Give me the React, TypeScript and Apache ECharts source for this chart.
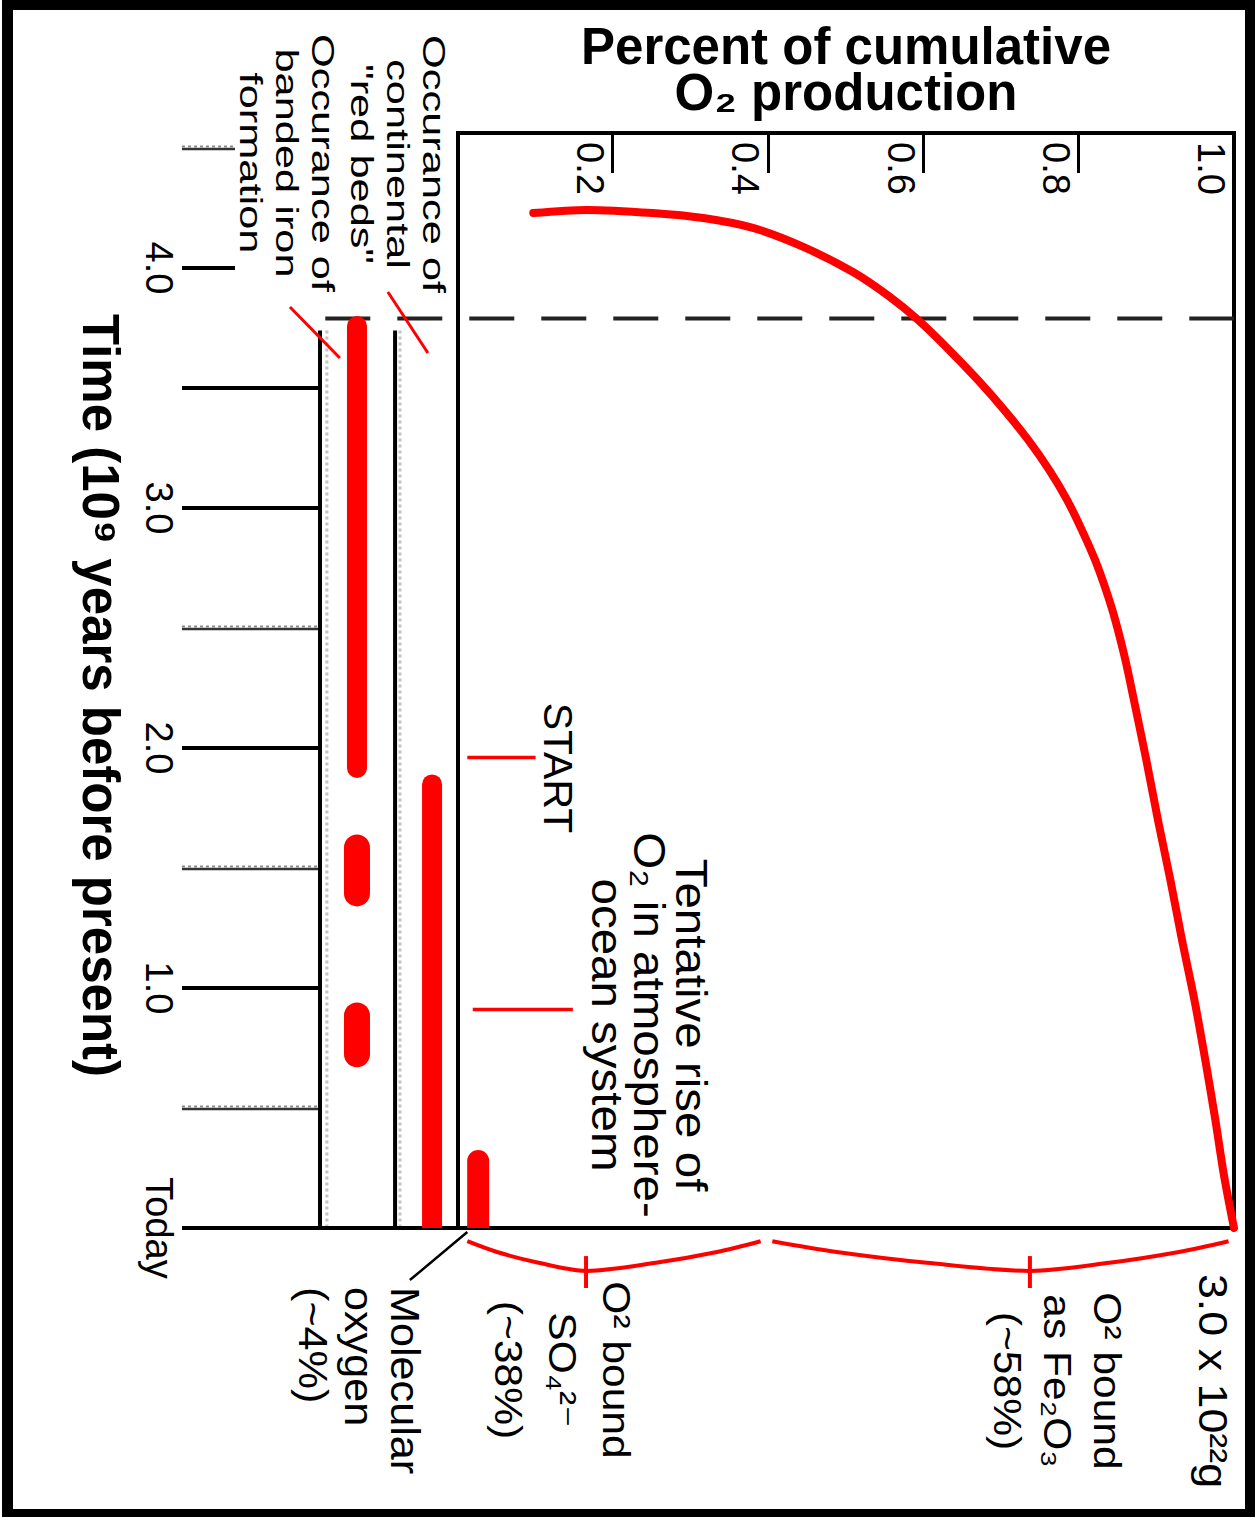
import React, { useEffect, useRef } from "react";
import * as echarts from "echarts";

// ---------------- data ----------------
// cumulative O2 production curve: time (10^9 yr before present) vs fraction
const curveTime = [4.229, 4.242, 4.229, 4.208, 4.167, 4.088, 3.983, 3.883, 3.783, 3.658, 3.533, 3.408, 3.283, 3.158, 3.033, 2.908, 2.783, 2.658, 2.533, 2.367, 2.2, 1.95, 1.7, 1.45, 1.2, 0.95, 0.7, 0.45, 0.221, 0];
const curvePercent = [0.097, 0.166, 0.251, 0.316, 0.38, 0.445, 0.509, 0.555, 0.593, 0.633, 0.67, 0.704, 0.735, 0.762, 0.785, 0.804, 0.821, 0.835, 0.847, 0.86, 0.871, 0.887, 0.902, 0.918, 0.933, 0.949, 0.963, 0.976, 0.987, 1.0];

// occurrence ranges [from, to] in 10^9 yr before present
const bandedIronFormation = [[3.8, 1.875], [1.64, 1.34], [0.94, 0.67]];
const continentalRedBeds = [[1.89, 0]];
const molecularOxygen = [[0.325, 0]];

// axis ticks and labels
const timeTickValues = [0, 1, 2, 3, 4];
const timeTickLabels = ["Today", "1.0", "2.0", "3.0", "4.0"];
const percentTickValues = [0.2, 0.4, 0.6, 0.8, 1.0];
const percentTickLabels = ["0.2", "0.4", "0.6", "0.8", "1.0"];
const solidTimeTicks = [1, 2, 3, 3.5];
const dottedTimeTicks = [0.5, 1.5, 2.5];
const shortSolidTimeTicks = [4];
const shortDottedTimeTicks = [4.5];

// event times
const oxygenThreshold = 3.79; // dashed line
const recordStart = 3.74; // start of the geological record strip
const startMarker = 1.96; // START
const riseMarker = 0.91; // tentative rise of O2

// fraction ranges of the braces: [from, tip, to]
const braceRanges = [[0.012, 0.165, 0.39], [0.405, 0.737, 0.993]];

// ---------------- layout / style constants ----------------
const FONT = "'Liberation Sans', Arial, Helvetica, 'DejaVu Sans', sans-serif";
const RED = "#ff0000";
const TIME_MAX = 4.5625;
const LANE_RED_BEDS = 0.094;
const LANE_IRON = 0.366;
const LINE_A = 0.228;
const LINE_B = 0.5;
const GREY_A = 0.21;
const GREY_B = 0.475;
const SHORT_TOP = 0.808;
const LANE_OXYGEN = 0.026;
const DASH_LOW = -0.171;
const BRACE_DEPTH = [-0.055, -0.1, -0.145, -0.179];
const BRACE_FRAC = [0, 0.25, 0.6, 1];
const TIP_TICK = [-0.117, -0.25];
const OXYGEN_POINTER = [[-0.017, 0.012], [-0.217, -0.062]];

const annotations = [
  { text: 'Occurance of\ncontinental\n"red beds"', at: [4.433, -0.0773], size: 31, lh: 36, sx: 1.4, align: "center" },
  { text: "Occurance of\nbanded iron\nformation", at: [4.4375, -0.2204], size: 31, lh: 36, sx: 1.4, align: "center" },
  { text: "START", at: [1.9167, 0.1289], size: 41, lh: 44, sx: 1.0, align: "center" },
  { text: "Tentative rise of\nO\u2082 in atmosphere-\nocean system", at: [0.8458, 0.2461], size: 44, lh: 42, sx: 1.08, align: "center" },
  { text: "Molecular\noxygen\n(~4%)", at: [-0.2458, -0.1276], size: 40, lh: 46, sx: 1.08, align: "left" },
  { text: "O\u00b2 bound\nSO\u2084\u00b2\u207b\n(~38%)", at: [-0.5917, 0.134], size: 38, lh: 54, sx: 1.12, align: "center" },
  { text: "O\u00b2 bound\nas Fe\u2082O\u2083\n(~58%)", at: [-0.6375, 0.772], size: 38, lh: 50, sx: 1.12, align: "center" },
  { text: "3.0 x 10\u00b2\u00b2g", at: [-0.6375, 0.973], size: 40, lh: 44, sx: 1.12, align: "center" },
];

function labelFor(values: number[], labels: string[]) {
  return (v: number) => {
    const i = values.findIndex((x) => Math.abs(x - v) < 1e-6);
    return i >= 0 ? labels[i] : "";
  };
}

function bracePoints(r: number[]) {
  const [p0, tip, p1] = r;
  const left = BRACE_FRAC.map((f, i) => [BRACE_DEPTH[i], p0 + f * (tip - p0)]);
  const right = [2, 1, 0].map((i) => [BRACE_DEPTH[i], p1 - BRACE_FRAC[i] * (p1 - tip)]);
  return [...left, ...right];
}

function seg(data: number[][], grid: number, style: any, extra: any = {}) {
  return {
    type: "line",
    xAxisIndex: grid,
    yAxisIndex: grid,
    data,
    symbol: "none",
    showSymbol: false,
    silent: true,
    clip: false,
    lineStyle: style,
    z: 4,
    ...extra,
  };
}

// polylines drawn through the grid's own coordinate conversion (works outside the axis range)
function pathSeries(grid: number, paths: number[][][], stroke: string, width: number, smooth: number) {
  return {
    type: "custom",
    xAxisIndex: grid,
    yAxisIndex: grid,
    silent: true,
    clip: false,
    z: 5,
    data: paths.map(() => [1, 0.5]),
    renderItem: (params: any, api: any) => {
      const pts = paths[params.dataIndex].map((pt) => api.coord(pt));
      return {
        type: "polyline",
        shape: { points: pts, smooth },
        style: { stroke, lineWidth: width, fill: "none", lineJoin: "round" },
      };
    },
  };
}

function barRender(lane: number, width: number, roundOnlyStart: boolean) {
  return (params: any, api: any) => {
    const a = api.coord([api.value(0), lane]);
    const b = api.coord([api.value(1), lane]);
    const x = Math.min(a[0], b[0]);
    const w = Math.abs(b[0] - a[0]);
    const r = width / 2;
    return {
      type: "rect",
      shape: { x, y: a[1] - width / 2, width: w, height: width, r: roundOnlyStart ? [r, 0, 0, r] : r },
      style: { fill: RED },
    };
  };
}

function buildOption() {
  const tickData = [
    ...solidTimeTicks.map((t) => [t, LINE_B, 0]),
    ...dottedTimeTicks.map((t) => [t, LINE_B, 1]),
    ...shortSolidTimeTicks.map((t) => [t, SHORT_TOP, 0]),
    ...shortDottedTimeTicks.map((t) => [t, SHORT_TOP, 1]),
  ];

  const braces = braceRanges.map((r) => bracePoints(r));
  const tipTicks = braceRanges.map((r) => [[TIP_TICK[0], r[1]], [TIP_TICK[1], r[1]]]);

  const series: any[] = [
    // dashed threshold line
    seg([[oxygenThreshold, DASH_LOW], [oxygenThreshold, 1]], 0, { color: "#222", width: 4, type: [45, 27] }, { z: 3 }),
    // cumulative curve
    {
      type: "line",
      xAxisIndex: 0,
      yAxisIndex: 0,
      data: curveTime.map((t, i) => [t, curvePercent[i]]),
      symbol: "none",
      showSymbol: false,
      smooth: 0.3,
      silent: true,
      lineStyle: { color: RED, width: 8, cap: "round", join: "round" },
      z: 10,
    },
    // strip lines
    seg([[recordStart, LINE_A], [0, LINE_A]], 1, { color: "#000", width: 4 }),
    seg([[recordStart, LINE_B], [0, LINE_B]], 1, { color: "#000", width: 4 }),
    seg([[recordStart, GREY_A], [0, GREY_A]], 1, { color: "#c4c4c4", width: 3, type: [3, 3] }, { z: 2 }),
    seg([[recordStart, GREY_B], [0, GREY_B]], 1, { color: "#c4c4c4", width: 3, type: [3, 3] }, { z: 2 }),
    seg([[0, 0], [0, 1]], 1, { color: "#000", width: 4 }),
    // time ticks
    {
      type: "custom",
      xAxisIndex: 1,
      yAxisIndex: 1,
      silent: true,
      data: tickData,
      renderItem: (params: any, api: any) => {
        const t = api.value(0);
        const top = api.value(1);
        const kind = api.value(2);
        const a = api.coord([t, 1]);
        const b = api.coord([t, top]);
        if (kind === 0) {
          return { type: "line", shape: { x1: a[0], y1: a[1], x2: b[0], y2: b[1] }, style: { stroke: "#000", lineWidth: 4 } };
        }
        return {
          type: "group",
          children: [
            { type: "line", shape: { x1: a[0] + 1, y1: a[1], x2: b[0] + 1, y2: b[1] }, style: { stroke: "#333", lineWidth: 2.5 } },
            { type: "line", shape: { x1: a[0] - 1.5, y1: a[1], x2: b[0] - 1.5, y2: b[1] }, style: { stroke: "#888", lineWidth: 2, lineDash: [3, 3] } },
          ],
        };
      },
      z: 4,
    },
    // occurrence bars
    { type: "custom", xAxisIndex: 1, yAxisIndex: 1, silent: true, data: bandedIronFormation.slice(0, 1), renderItem: barRender(LANE_IRON, 20, false), z: 6 },
    { type: "custom", xAxisIndex: 1, yAxisIndex: 1, silent: true, data: bandedIronFormation.slice(1), renderItem: barRender(LANE_IRON, 26, false), z: 6 },
    { type: "custom", xAxisIndex: 1, yAxisIndex: 1, silent: true, data: continentalRedBeds, renderItem: barRender(LANE_RED_BEDS, 20, true), z: 6 },
    { type: "custom", xAxisIndex: 0, yAxisIndex: 0, silent: true, data: molecularOxygen, renderItem: barRender(LANE_OXYGEN, 22, true), z: 6 },
    // markers
    seg([[startMarker, 0.012], [startMarker, 0.1]], 0, { color: RED, width: 3.5 }),
    seg([[riseMarker, 0.019], [riseMarker, 0.148]], 0, { color: RED, width: 3.5 }),
    // pointers
    seg([[3.9, 0.254], [3.646, 0.109]], 1, { color: RED, width: 3 }),
    seg([[3.8375, 0.609], [3.625, 0.428]], 1, { color: RED, width: 3 }),
    pathSeries(0, [OXYGEN_POINTER], "#000", 2.5, 0),
    // braces
    pathSeries(0, braces, RED, 4, 0.3),
    pathSeries(0, tipTicks, RED, 4, 0),
  ];

  return {
    animation: false,
    backgroundColor: "#ffffff",
    textStyle: { fontFamily: FONT, color: "#000" },
    grid: [
      { left: 133, top: 21, width: 1095, height: 776, show: true, borderColor: "#000", borderWidth: 4, backgroundColor: "transparent", containLabel: false },
      { left: 133, top: 797, width: 1095, height: 276, show: false, containLabel: false },
    ],
    xAxis: [
      { gridIndex: 0, type: "value", min: 0, max: TIME_MAX, inverse: true, show: false },
      {
        gridIndex: 1,
        type: "value",
        min: 0,
        max: TIME_MAX,
        inverse: true,
        interval: 1,
        position: "bottom",
        axisLine: { show: false, onZero: false },
        axisTick: { show: false },
        splitLine: { show: false },
        axisLabel: {
          show: true,
          margin: 4,
          fontSize: 38,
          color: "#000",
          fontFamily: FONT,
          showMaxLabel: false,
          formatter: labelFor(timeTickValues, timeTickLabels),
        },
        name: "Time (10\u2079 years before present)",
        nameLocation: "middle",
        nameGap: 56,
        nameTextStyle: { fontSize: 51, fontWeight: "bold", color: "#000", fontFamily: FONT, padding: [0, 0, 0, 30] },
      },
    ],
    yAxis: [
      {
        gridIndex: 0,
        type: "value",
        min: 0,
        max: 1,
        interval: 0.2,
        position: "left",
        axisLine: { show: false, onZero: false },
        axisTick: { show: true, inside: true, length: 40, lineStyle: { color: "#000", width: 3 } },
        splitLine: { show: false },
        axisLabel: {
          inside: true,
          margin: 9,
          fontSize: 38,
          color: "#000",
          fontFamily: FONT,
          verticalAlign: "top",
          padding: [4, 0, 0, 0],
          formatter: labelFor(percentTickValues, percentTickLabels),
        },
        name: "Percent of cumulative\nO\u2082 production",
        nameLocation: "middle",
        nameRotate: 90,
        nameGap: 18,
        nameTextStyle: { fontSize: 51, fontWeight: "bold", lineHeight: 46, color: "#000", fontFamily: FONT },
      },
      { gridIndex: 1, type: "value", min: 0, max: 1, inverse: true, show: false },
    ],
    series,
  };
}

export default function App() {
  const ref = useRef<HTMLDivElement>(null);
  useEffect(() => {
    document.body.style.margin = "0";
    const el = ref.current as HTMLDivElement;
    const chart = echarts.init(el, null, { renderer: "svg" });
    chart.setOption(buildOption() as any);
    const graphic = annotations.map((a) => {
      const p = chart.convertToPixel({ gridIndex: 0 } as any, a.at) as number[];
      return {
        type: "text",
        x: p[0],
        y: p[1],
        scaleX: a.sx,
        silent: true,
        z: 20,
        style: {
          text: a.text,
          fill: "#000",
          fontSize: a.size,
          fontFamily: FONT,
          lineHeight: a.lh,
          align: a.align,
          verticalAlign: "middle",
          textAlign: a.align,
          textVerticalAlign: "middle",
        },
      };
    });
    chart.setOption({ graphic } as any);
    return () => chart.dispose();
  }, []);
  return (
    <div style={{ position: "fixed", left: 0, top: 0, width: 1255, height: 1517, overflow: "hidden", background: "#fff" }}>
      <div
        ref={ref}
        style={{
          position: "absolute",
          left: 0,
          top: 0,
          width: 1517,
          height: 1255,
          transformOrigin: "0 0",
          transform: "translate(1255px, 0px) rotate(90deg)",
        }}
      />
      <div
        style={{
          position: "absolute",
          left: 2,
          top: 0,
          right: 0,
          bottom: 0,
          borderStyle: "solid",
          borderColor: "#000",
          borderWidth: "10px 10px 8px 11px",
          pointerEvents: "none",
        }}
      />
    </div>
  );
}
